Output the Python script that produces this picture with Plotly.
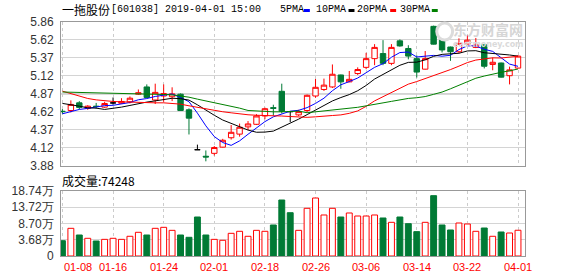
import numpy as np
import pandas as pd
import plotly.graph_objects as go

# ---------------- data ----------------
dates = ["01-08","01-09","01-10","01-11","01-14","01-15","01-16","01-17","01-18","01-21",
         "01-22","01-23","01-24","01-25","01-28","01-29","01-30","01-31","02-01","02-11",
         "02-12","02-13","02-14","02-15","02-18","02-19","02-20","02-21","02-22","02-25",
         "02-26","02-27","02-28","03-01","03-04","03-05","03-06","03-07","03-08","03-11",
         "03-12","03-13","03-14","03-15","03-18","03-19","03-20","03-21","03-22","03-25",
         "03-26","03-27","03-28","03-29","04-01"]

opens = [4.63, 4.64, 4.746, 4.669, 4.70, 4.687, 4.745, 4.74, 4.76, 4.865,
         4.965, 4.785, 4.84, 4.83, 4.865, 4.65, 4.10, 4.01, 4.05, 4.135,
         4.265, 4.315, 4.415, 4.45, 4.565, 4.68, 4.905, 4.625, 4.58, 4.64,
         4.84, 4.93, 4.965, 5.13, 5.035, 5.15, 5.235, 5.355, 5.425, 5.29,
         5.60, 5.495, 5.355, 5.21, 5.80, 5.61, 5.515, 5.45, 5.555, 5.51,
         5.545, 5.275, 5.295, 5.12, 5.225]
highs = [4.66, 4.78, 4.769, 4.714, 4.745, 4.76, 4.82, 4.81, 4.834, 4.93,
         5.00, 5.01, 5.00, 4.96, 4.875, 4.67, 4.17, 4.09, 4.15, 4.25,
         4.44, 4.46, 4.495, 4.59, 4.68, 4.72, 5.01, 4.625, 4.65, 4.86,
         5.075, 5.08, 5.275, 5.135, 5.185, 5.235, 5.435, 5.555, 5.61, 5.555,
         5.62, 5.54, 5.40, 5.46, 5.81, 5.615, 5.52, 5.635, 5.675, 5.64,
         5.55, 5.37, 5.30, 5.245, 5.40]
lows = [4.595, 4.614, 4.655, 4.65, 4.665, 4.677, 4.72, 4.735, 4.738, 4.855,
        4.815, 4.73, 4.76, 4.77, 4.635, 4.31, 4.10, 3.94, 4.02, 4.13,
        4.24, 4.28, 4.37, 4.44, 4.52, 4.57, 4.60, 4.48, 4.565, 4.615,
        4.815, 4.91, 4.95, 4.94, 5.03, 5.13, 5.21, 5.265, 5.265, 5.265,
        5.52, 5.345, 5.095, 5.205, 5.55, 5.44, 5.325, 5.435, 5.54, 5.50,
        5.22, 5.195, 5.095, 5.00, 5.22]
closes = [4.625, 4.724, 4.683, 4.70, 4.695, 4.737, 4.745, 4.765, 4.81, 4.885,
          4.82, 4.89, 4.875, 4.87, 4.64, 4.535, 4.10, 4.00, 4.13, 4.23,
          4.34, 4.41, 4.455, 4.565, 4.665, 4.67, 4.63, 4.625, 4.625, 4.85,
          4.96, 4.99, 5.14, 5.035, 5.07, 5.205, 5.355, 5.51, 5.29, 5.51,
          5.53, 5.39, 5.17, 5.355, 5.555, 5.475, 5.45, 5.565, 5.61, 5.545,
          5.25, 5.305, 5.10, 5.20, 5.39]
# volume in 万 (10k shares)
volumes = [4.41, 7.98, 6.05, 5.10, 4.32, 4.80, 5.10, 4.80, 5.68, 6.83,
           6.05, 7.98, 8.27, 7.40, 6.05, 5.39, 11.24, 6.05, 4.80, 4.53,
           6.54, 7.12, 5.68, 7.40, 7.12, 8.94, 16.14, 12.48, 7.40, 13.75,
           16.72, 11.82, 13.75, 11.24, 12.40, 11.53, 11.53, 11.82, 10.96, 9.71,
           11.24, 9.32, 7.02, 9.71, 17.39, 8.94, 7.50, 9.51, 9.23, 7.12,
           8.07, 5.68, 6.92, 6.63, 7.42]

# moving-average values at the start of the window (history before 01-08)
ma5_head = [4.595, 4.622, 4.655, 4.669]
ma10_head = [4.738, 4.724, 4.700, 4.677, 4.673, 4.655, 4.669, 4.687, 4.710]
ma20_head = [4.907, 4.875, 4.838, 4.806, 4.787, 4.773, 4.765, 4.760, 4.755, 4.755,
             4.751, 4.746, 4.746, 4.742, 4.728, 4.705, 4.682, 4.663, 4.645]
ma30_head = [4.895, 4.893, 4.889, 4.886, 4.883, 4.883, 4.879, 4.879, 4.875, 4.872,
             4.870, 4.866, 4.861, 4.856, 4.845, 4.824, 4.797, 4.773, 4.746, 4.721,
             4.696, 4.673, 4.641, 4.632, 4.625, 4.622, 4.622, 4.625, 4.632]

price_tick_labels = ["3.88", "4.12", "4.37", "4.62", "4.87", "5.12", "5.37", "5.62", "5.86"]
vol_tick_labels = ["0", "3.68万", "8.70万", "13.72万", "18.74万"]
price_min, price_max = 3.88, 5.86
vol_max = 18.74
ref_price = 4.87
last_volume_text = "74248"
stock_title = "一拖股份"
stock_info = "[601038] 2019-04-01 15:00"
ma_names = ["5PMA", "10PMA", "20PMA", "30PMA"]
label_every = 6

# ---------------- derived ----------------
RED = "#ff0000"
GREEN = "#007a35"
ma_colors = ["#0000ff", "#000000", "#ff0000", "#008000"]

n = len(dates)
idx = np.arange(n)
o = np.array(opens); h = np.array(highs); l = np.array(lows); c = np.array(closes)
s = pd.Series(c)

def ma(win, head):
    m = s.rolling(win).mean().to_numpy()
    m[:win - 1] = head
    return m

mas = [ma(5, ma5_head), ma(10, ma10_head), ma(20, ma20_head), ma(30, ma30_head)]

up = c > o
down = c < o
flat = c == o
prev_c = np.concatenate([[c[0]], c[:-1]])
vol_up = up | (flat & (c >= prev_c))

fig = go.Figure()

def candle(mask, inc_line, inc_fill, dec_line, dec_fill):
    fig.add_trace(go.Candlestick(
        x=idx[mask], open=o[mask], high=h[mask], low=l[mask], close=c[mask],
        increasing=dict(line=dict(color=inc_line, width=1), fillcolor=inc_fill),
        decreasing=dict(line=dict(color=dec_line, width=1), fillcolor=dec_fill),
        whiskerwidth=0, showlegend=False, hoverinfo="skip", xaxis="x", yaxis="y"))

candle(up, RED, "white", RED, "white")
candle(down, GREEN, GREEN, GREEN, GREEN)
candle(flat, "#000000", "#000000", "#000000", "#000000")

for m, col in zip(mas, ma_colors):
    fig.add_trace(go.Scatter(x=idx, y=m, mode="lines", line=dict(color=col, width=1),
                             showlegend=False, hoverinfo="skip", xaxis="x", yaxis="y"))

fig.add_trace(go.Bar(
    x=idx, y=volumes, xaxis="x2", yaxis="y2", showlegend=False, hoverinfo="skip",
    marker=dict(color=["white" if u else GREEN for u in vol_up],
                line=dict(color=[RED if u else GREEN for u in vol_up], width=1))))

grid_idx = list(range(0, n, label_every))
xr = [-0.17, n - 1 + 0.83]
xcommon = dict(range=xr, tickvals=grid_idx, showticklabels=False, showgrid=True,
               gridcolor="#cccccc", griddash="3px,3px", gridwidth=1, zeroline=False,
               showline=True, mirror=True, linecolor="#999999", linewidth=1, ticks="",
               fixedrange=True)

price_ticks = np.linspace(price_min, price_max, len(price_tick_labels))
vol_ticks = np.linspace(0, vol_max, len(vol_tick_labels))

fig.update_layout(
    width=578, height=276,
    margin=dict(l=57, r=53, t=22, b=20, pad=0),
    paper_bgcolor="white", plot_bgcolor="white",
    boxgap=0.36, boxgroupgap=0, bargap=0.3,
    xaxis=dict(**xcommon, anchor="y", rangeslider=dict(visible=False)),
    xaxis2=dict(**xcommon, anchor="y2", matches="x"),
    yaxis=dict(domain=[0.386, 1.0], range=[price_min, price_max], tickvals=price_ticks,
               ticktext=price_tick_labels, showgrid=True, gridcolor="#d4d4d4",
               zeroline=False, showline=True, mirror=True, linecolor="#999999",
               linewidth=1, ticks="", ticklabelstandoff=4, fixedrange=True,
               tickfont=dict(family="Liberation Sans", size=12, color="#333333")),
    yaxis2=dict(domain=[0, 0.2778], range=[0, vol_max], tickvals=vol_ticks,
                ticktext=vol_tick_labels, showgrid=True, gridcolor="#d4d4d4",
                zeroline=False, showline=True, mirror=True, linecolor="#999999",
                linewidth=1, ticks="", ticklabelstandoff=4, fixedrange=True,
                tickfont=dict(family="Liberation Sans", size=12, color="#333333")),
    showlegend=False,
)

# reference (previous close) line
fig.add_shape(type="line", xref="paper", x0=0, x1=1, yref="y", y0=ref_price, y1=ref_price,
              line=dict(color="#8c8c8c", width=1), layer="below")

W, PX0, PH, PY1 = 468.0, 57.0, 234.0, 256.0
def px(xp):
    return (xp - PX0) / W
def py(yp):
    return (PY1 - yp) / PH

# date labels
for k, i in enumerate(grid_idx):
    fig.add_annotation(x=i, xref="x2", y=py(267), yref="paper", text=dates[i],
                       showarrow=False, xanchor="center", yanchor="middle",
                       xshift=16 if k == 0 else 0,
                       font=dict(family="Liberation Sans", size=11, color=RED))

# title
fig.add_annotation(x=px(56), y=py(10), xref="paper", yref="paper", text=stock_title,
                   showarrow=False, xanchor="left", yanchor="middle",
                   font=dict(family="Noto Sans CJK SC", size=12, color="#000000"))
fig.add_annotation(x=px(105), y=py(10), xref="paper", yref="paper", text=stock_info,
                   showarrow=False, xanchor="left", yanchor="middle",
                   font=dict(family="Liberation Mono", size=10, color="#000000"))
name_x = [276, 312, 354, 397]
dash_x = [302, 347, 389, 431]
for nm, nx, dx, col in zip(ma_names, name_x, dash_x, ma_colors):
    fig.add_annotation(x=px(nx), y=py(10), xref="paper", yref="paper", text=nm,
                       showarrow=False, xanchor="left", yanchor="middle",
                       font=dict(family="Liberation Mono", size=10, color="#000000"))
    fig.add_shape(type="rect", xref="paper", yref="paper", x0=px(dx), x1=px(dx + 6),
                  y0=py(12), y1=py(9), line=dict(width=0), fillcolor=col)

# volume label
fig.add_annotation(x=px(56), y=py(180), xref="paper", yref="paper",
                   text="成交量:" + last_volume_text, showarrow=False,
                   xanchor="left", yanchor="middle",
                   font=dict(family="Noto Sans CJK SC", size=12, color="#000000"))

# watermark
fig.add_annotation(x=px(525), y=py(29), xref="paper", yref="paper", text="<b>东方财富网</b>",
                   showarrow=False, xanchor="right", yanchor="middle",
                   font=dict(family="Noto Sans CJK SC", size=14, color="#d6d6d6"))
fig.add_annotation(x=px(525), y=py(44), xref="paper", yref="paper", text="<b>eastmoney.com</b>",
                   showarrow=False, xanchor="right", yanchor="middle",
                   font=dict(family="DejaVu Sans", size=8, color="#dadada"))
fig.add_shape(type="circle", xref="paper", yref="paper", x0=px(436), x1=px(452),
              y0=py(40), y1=py(23), line=dict(color="#dcdcdc", width=3))

fig.write_html("out.html")
